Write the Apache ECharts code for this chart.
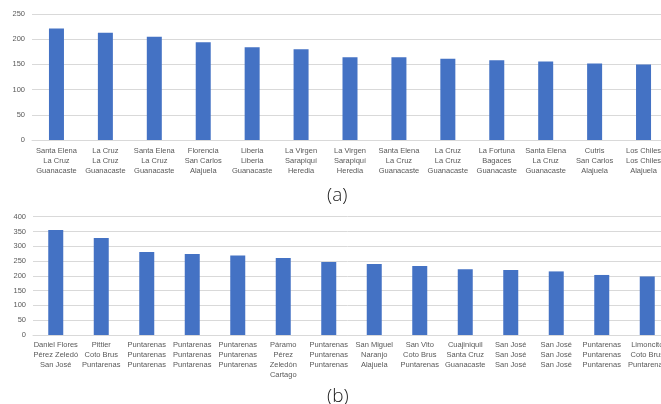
<!DOCTYPE html>
<html>
<head>
<meta charset="utf-8">
<script src="https://cdn.jsdelivr.net/npm/echarts@6/dist/echarts.min.js"></script>
<style>
  html, body { margin: 0; padding: 0; background: #fff; }
  #chart { width: 661px; height: 404px; }
</style>
</head>
<body>
<div id="chart"></div>
<script>
  // (a) categorias: distrito / canton / provincia
  var placesA = [
    ['Santa Elena', 'La Cruz', 'Guanacaste'],
    ['La Cruz', 'La Cruz', 'Guanacaste'],
    ['Santa Elena', 'La Cruz', 'Guanacaste'],
    ['Florencia', 'San Carlos', 'Alajuela'],
    ['Liberia', 'Liberia', 'Guanacaste'],
    ['La Virgen', 'Sarapiquí', 'Heredia'],
    ['La Virgen', 'Sarapiquí', 'Heredia'],
    ['Santa Elena', 'La Cruz', 'Guanacaste'],
    ['La Cruz', 'La Cruz', 'Guanacaste'],
    ['La Fortuna', 'Bagaces', 'Guanacaste'],
    ['Santa Elena', 'La Cruz', 'Guanacaste'],
    ['Cutris', 'San Carlos', 'Alajuela'],
    ['Los Chiles', 'Los Chiles', 'Alajuela']
  ];
  var valuesA = [221, 213, 205, 194, 184, 180, 164, 164, 161, 158, 156, 152, 150];

  // (b)
  var placesB = [
    ['Daniel Flores', 'Pérez Zeledó', 'San José'],
    ['Pittier', 'Coto Brus', 'Puntarenas'],
    ['Puntarenas', 'Puntarenas', 'Puntarenas'],
    ['Puntarenas', 'Puntarenas', 'Puntarenas'],
    ['Puntarenas', 'Puntarenas', 'Puntarenas'],
    ['Páramo', 'Pérez', 'Zeledón', 'Cartago'],
    ['Puntarenas', 'Puntarenas', 'Puntarenas'],
    ['San Miguel', 'Naranjo', 'Alajuela'],
    ['San Vito', 'Coto Brus', 'Puntarenas'],
    ['Cuajiniquil', 'Santa Cruz', 'Guanacaste'],
    ['San José', 'San José', 'San José'],
    ['San José', 'San José', 'San José'],
    ['Puntarenas', 'Puntarenas', 'Puntarenas'],
    ['Limoncito', 'Coto Brus', 'Puntarenas']
  ];
  var valuesB = [355, 328, 281, 274, 269, 260, 247, 240, 233, 222, 220, 215, 203, 198];

  var captions = ['(a)', '(b)'];

  var font = 'Liberation Sans';
  var labelColor = '#595959';
  var gridColor = '#d9d9d9';
  var barColor = '#4472c4';

  function joinLines(list) {
    return list.map(function (p) { return p.join('\n'); });
  }

  function xAxisFor(gridIndex, names, margin, lh) {
    return {
      type: 'category',
      gridIndex: gridIndex,
      data: joinLines(names),
      axisTick: { show: false },
      axisLine: { lineStyle: { color: gridColor, width: 1 } },
      axisLabel: {
        interval: 0,
        hideOverlap: false,
        margin: margin,
        color: labelColor,
        fontFamily: font,
        fontSize: 7.5,
        lineHeight: lh
      }
    };
  }

  function yAxisFor(gridIndex, max) {
    return {
      type: 'value',
      gridIndex: gridIndex,
      min: 0,
      max: max,
      interval: 50,
      axisLine: { show: false },
      axisTick: { show: false },
      splitLine: { lineStyle: { color: gridColor, width: 1 } },
      axisLabel: {
        margin: 7,
        color: labelColor,
        fontFamily: font,
        fontSize: 7.5
      }
    };
  }

  var myChart = echarts.init(document.getElementById('chart'));
  myChart.setOption({
    backgroundColor: '#fff',
    animation: false,
    grid: [
      { left: 32, top: 14, width: 636, height: 126, outerBoundsMode: 'none', containLabel: false },
      { left: 33, top: 216.7, width: 637, height: 118.3, outerBoundsMode: 'none', containLabel: false }
    ],
    xAxis: [
      xAxisFor(0, placesA, 6, 10),
      xAxisFor(1, placesB, 5.5, 9.7)
    ],
    yAxis: [
      yAxisFor(0, 250),
      yAxisFor(1, 400)
    ],
    graphic: [
      {
        type: 'text', left: 327, top: 186,
        style: { text: captions[0], font: '300 19px "Open Sans"', fill: '#222' }
      },
      {
        type: 'text', left: 327, top: 387,
        style: { text: captions[1], font: '300 19px "Open Sans"', fill: '#222' }
      }
    ],
    series: [
      {
        type: 'bar', xAxisIndex: 0, yAxisIndex: 0,
        barWidth: 15,
        itemStyle: { color: barColor },
        data: valuesA
      },
      {
        type: 'bar', xAxisIndex: 1, yAxisIndex: 1,
        barWidth: 15,
        itemStyle: { color: barColor },
        data: valuesB
      }
    ]
  });
</script>
</body>
</html>
